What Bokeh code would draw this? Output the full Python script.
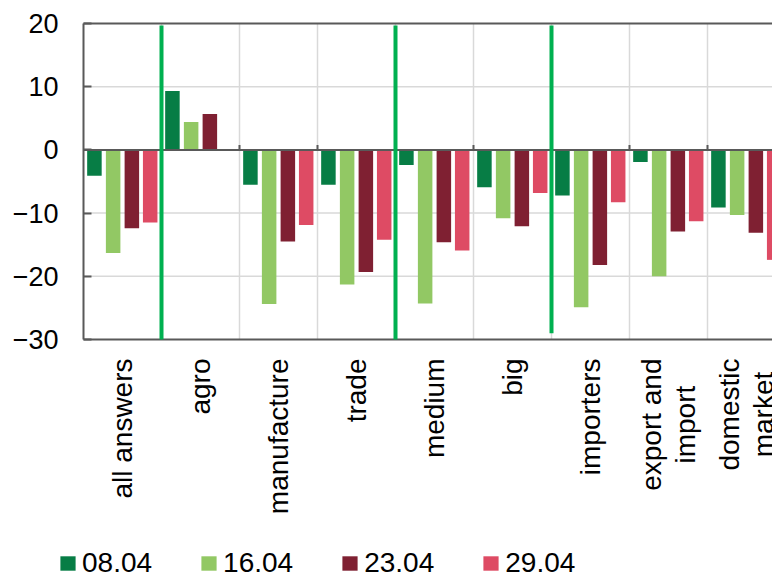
import math
from bokeh.plotting import figure
from bokeh.models import (ColumnDataSource, Range1d, LinearAxis, FixedTicker,
                          Legend, LegendItem)
from bokeh.core.properties import value
from bokeh.embed import file_html
from bokeh.resources import INLINE

# Survey groups and the four survey dates
categories = ["all answers", "agro", "manufacture", "trade", "medium", "big",
              "importers", "export and\nimport", "domestic\nmarket"]
dates = ["08.04", "16.04", "23.04", "29.04"]

s_0804 = [-4.1, 9.3, -5.5, -5.5, -2.4, -5.9, -7.2, -1.9, -9.1]
s_1604 = [-16.3, 4.4, -24.4, -21.3, -24.3, -10.8, -24.9, -20.0, -10.3]
s_2304 = [-12.4, 5.7, -14.5, -19.3, -14.6, -12.1, -18.2, -12.9, -13.1]
s_2904 = [-11.5, None, -11.9, -14.2, -15.9, -6.8, -8.3, -11.3, -17.4]

y_ticks = [-30, -20, -10, 0, 10, 20]

# group separators: after "all answers", after "trade", after "big"
separators_after = ["all answers", "trade", "big"]

colors = ["#077D45", "#92C864", "#7F2032", "#DE4B64"]
series = [s_0804, s_1604, s_2304, s_2904]
offsets = [-0.36, -0.12, 0.12, 0.355]

FONT = "Liberation Sans"
GRID = "#D9D9D9"
AXIS = "#595959"

# page geometry (pixels)
W, H = 772, 579
LEFT, TOP, PLOT_H = 83, 23, 316
SLOT = 78.0                                  # pixels per category slot
Y_MIN, Y_MAX = y_ticks[0], y_ticks[-1]
YPX = PLOT_H / (Y_MAX - Y_MIN)               # pixels per y unit

x_lo = -LEFT / SLOT
x_hi = (W - LEFT) / SLOT
y_hi = Y_MAX + TOP / YPX
y_lo = Y_MAX - (H - TOP) / YPX

n = len(categories)
p = figure(width=W, height=H, output_backend="svg", toolbar_location=None,
           x_range=Range1d(x_lo, x_hi), y_range=Range1d(y_lo, y_hi),
           min_border=0, outline_line_color=None,
           x_axis_location=None, y_axis_location=None)
p.xgrid.visible = False
p.ygrid.visible = False

# y axis pinned to the left edge of the bar area
yax = LinearAxis(ticker=FixedTicker(ticks=y_ticks), fixed_location=0,
                 bounds=(Y_MIN, Y_MAX))
yax.axis_line_color = AXIS
yax.axis_line_width = 2
yax.major_tick_in = 8
yax.major_tick_out = 0
yax.major_tick_line_color = AXIS
yax.major_tick_line_width = 2
yax.minor_tick_line_color = None
yax.major_label_standoff = 25
yax.major_label_text_font = FONT
yax.major_label_text_font_size = "27px"
yax.major_label_text_color = "black"
p.add_layout(yax, "left")

bounds = list(range(1, n + 1))
grid_y = [v for v in y_ticks if v not in (Y_MIN, 0, Y_MAX)]

# horizontal and vertical gridlines
p.segment(x0=[0] * len(grid_y), x1=[x_hi] * len(grid_y), y0=grid_y, y1=grid_y,
          line_color=GRID, line_width=1.5)
p.segment(x0=bounds, x1=bounds, y0=[Y_MIN] * n, y1=[Y_MAX] * n,
          line_color=GRID, line_width=1.5)

# bars
renderers = []
for vals, off, col in zip(series, offsets, colors):
    xs = [i + 0.5 + off for i in range(n)]
    tops = [float("nan") if v is None else v for v in vals]
    src = ColumnDataSource(dict(x=xs, top=tops))
    r = p.vbar(x="x", top="top", bottom=0, width=0.186, source=src,
               fill_color=col, line_color=None)
    renderers.append(r)

# frame lines (top, bottom) and zero line with small category ticks
p.segment(x0=[0, 0, 0], x1=[x_hi] * 3, y0=[Y_MAX, Y_MIN, 0], y1=[Y_MAX, Y_MIN, 0],
          line_color=AXIS, line_width=2)
p.segment(x0=bounds, x1=bounds, y0=[0] * n, y1=[5 / YPX] * n,
          line_color=AXIS, line_width=2)

# green group separators
sep_x = [categories.index(c) + 1 for c in separators_after]
p.segment(x0=sep_x, x1=sep_x, y0=[Y_MAX - 0.3] * 3, y1=[Y_MIN, Y_MIN, Y_MIN + 1],
          line_color="#00B050", line_width=4)

# rotated category labels below the bars
LABEL_PX = 28
adv = {" ": 278, "a": 556, "b": 556, "c": 500, "d": 556, "e": 556, "f": 278,
       "g": 556, "h": 556, "i": 222, "k": 500, "l": 222, "m": 833, "n": 556,
       "o": 556, "p": 556, "r": 333, "s": 500, "t": 278, "u": 556, "w": 722,
       "x": 500}


def text_px(s):
    return sum(adv.get(ch, 556) for ch in s) * LABEL_PX / 1000.0


anchor_y = Y_MIN - 19 / YPX
line_gap = 34 / SLOT
lx, ly, lt, la = [], [], [], []
for i, lab in enumerate(categories):
    lines = lab.split("\n")
    first_w = text_px(lines[0])
    for j, line in enumerate(lines):
        lx.append(i + 0.5 + (j - (len(lines) - 1) / 2) * line_gap)
        lt.append(line)
        if j == 0:
            ly.append(anchor_y)
            la.append("right")
        else:
            ly.append(anchor_y - first_w / 2 / YPX)
            la.append("center")
p.text(x=lx, y=ly, text=lt, text_align=la, angle=math.pi / 2,
       text_baseline="middle", text_font=value(FONT),
       text_font_size=f"{LABEL_PX}px", text_color="black")

legend = Legend(items=[LegendItem(label=d, renderers=[r]) for d, r in zip(dates, renderers)],
                orientation="horizontal", location=(58, 0))
legend.border_line_color = None
legend.background_fill_alpha = 0
legend.padding = 0
legend.margin = 0
legend.spacing = 47
legend.glyph_width = 19
legend.glyph_height = 18
legend.label_standoff = 5
legend.label_text_font = FONT
legend.label_text_font_size = "28px"
legend.label_text_color = "black"
p.add_layout(legend)

open("out.html", "w").write(file_html(p, INLINE))
